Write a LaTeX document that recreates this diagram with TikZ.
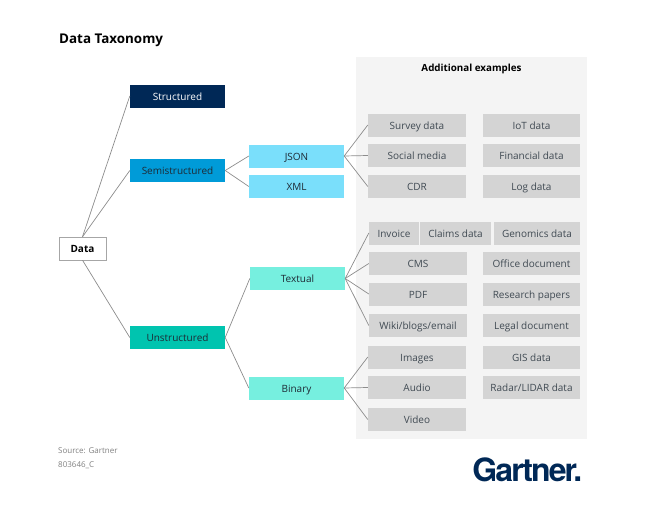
\documentclass[tikz,border=0pt]{standalone}
\usepackage{fontspec}
\setmainfont{Open Sans}
\newfontfamily\logofont[LetterSpace=-6]{TeX Gyre Heros}
\definecolor{navy}{HTML}{002856}
\definecolor{semiblue}{HTML}{009BD8}
\definecolor{skyblue}{HTML}{7ADFFB}
\definecolor{sea}{HTML}{00C4AF}
\definecolor{mint}{HTML}{76EFDF}
\definecolor{exgrey}{HTML}{D4D4D4}
\definecolor{panelgrey}{HTML}{F4F4F4}
\definecolor{inktext}{HTML}{1E2A35}

\begin{document}
\begin{tikzpicture}[x=1pt, y=-1pt,
    box/.style={rectangle, minimum width=95pt, minimum height=23pt, inner sep=0pt, text height=8.5pt, text depth=0.5pt, font=\fontsize{10}{12}\selectfont, text=inktext},
    example/.style={box, fill=exgrey, minimum width=98pt, text=inktext!85},
    link/.style={draw=black!45, line width=0.7pt}
    ]
    \useasboundingbox (0,0) rectangle (646,522);
    \node[rectangle, fill=panelgrey, minimum width=231pt, minimum height=382pt, inner sep=0pt] (panel) at (471.5,248) {};
    \node[anchor=base west, inner sep=0pt, font=\fontsize{13.4}{16}\selectfont\bfseries, text=black] (title) at (59,43) {Data Taxonomy};
    \node[font=\fontsize{9.8}{12}\selectfont\bfseries, inner sep=0pt, text height=8pt, text depth=1pt, text=black] (head) at (471.5,68) {Additional examples};

    \node[box, draw=black!35, fill=white, minimum width=47pt, font=\fontsize{10}{12}\selectfont\bfseries, text=black] (data) at (82.5,248.5) {Data};
    \node[box, fill=navy, text=white] (structured) at (177.5,96) {Structured};
    \node[box, fill=semiblue] (semi) at (177.5,170.5) {Semistructured};
    \node[box, fill=sea] (unstructured) at (177.5,337.5) {Unstructured};
    \node[box, fill=skyblue] (json) at (296.5,156) {JSON};
    \node[box, fill=skyblue] (xml) at (296.5,186.5) {XML};
    \node[box, fill=mint] (textual) at (297.5,278.5) {Textual};
    \node[box, fill=mint] (binary) at (296.5,388) {Binary};

    % examples
    \foreach \nm/\xc/\yc/\txt in {
      survey/417/125/Survey data, social/417/155.5/Social media, cdr/417/186.5/CDR,
      cms/418/263.5/CMS, pdf/418/294/PDF, wiki/418/325.5/Wiki\slash blogs\slash email,
      images/417/357/Images, audio/417/387.5/Audio, video/417/419.5/Video}
      \node[example] (\nm) at (\xc,\yc) {\txt};
    \foreach \nm/\yc/\txt in {
      iot/125/IoT data, financial/155.5/Financial data, logdata/186.5/Log data,
      office/263.5/Office document, research/294/Research papers, legal/325.5/Legal document,
      gis/357/GIS data, radar/387.5/Radar\slash LIDAR data}
      \node[example, minimum width=97pt] (\nm) at (531.5,\yc) {\txt};
    \node[example, minimum width=50pt] (invoice) at (394,233) {Invoice};
    \node[example, minimum width=71pt] (claims) at (455.5,233) {Claims data};
    \node[example, minimum width=86pt] (genomics) at (537,233) {Genomics data};

    % connectors
    \foreach \kid in {structured, semi}
      \draw[link] (data.north) -- (\kid.west);
    \draw[link] (data.south) -- (unstructured.west);
    \foreach \kid in {json, xml}
      \draw[link] (semi.east) -- (\kid.west);
    \foreach \kid in {textual, binary}
      \draw[link] (unstructured.east) -- (\kid.west);
    \foreach \kid in {survey, social, cdr}
      \draw[link] (json.east) -- (\kid.west);
    \foreach \kid in {invoice, cms, pdf, wiki}
      \draw[link] (textual.east) -- (\kid.west);
    \foreach \kid in {images, audio, video}
      \draw[link] (binary.east) -- (\kid.west);

    \node[anchor=base west, inner sep=0pt, font=\fontsize{8}{10}\selectfont, text=black!50] (source) at (58,453.5) {Source: Gartner};
    \node[anchor=base west, inner sep=0pt, font=\fontsize{8}{10}\selectfont, text=black!50] (code) at (58,467) {803646\_C};
    \node[anchor=base east, inner sep=0pt, font=\fontsize{32}{36}\logofont\bfseries, text=navy] (logo) at (582.5,481) {Gartner.};
\end{tikzpicture}
\end{document}
